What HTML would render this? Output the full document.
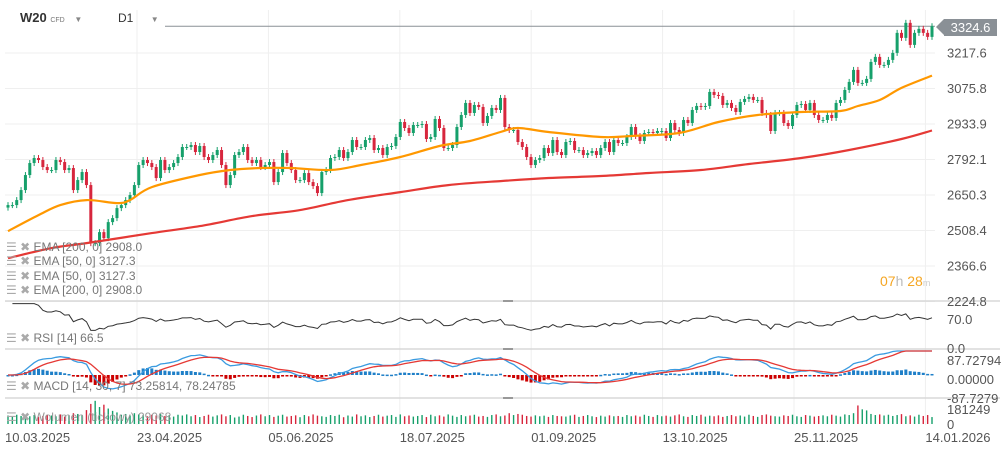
<!DOCTYPE html>
<html><head><meta charset="utf-8"><style>
body{margin:0;background:#fff;width:1007px;height:450px;overflow:hidden;font-family:"Liberation Sans",sans-serif}
svg{position:absolute;left:0;top:0}
text{font-family:"Liberation Sans",sans-serif}
.lg{font-size:12px;color:#777}
.ic{color:#aaa}
</style></head><body>
<svg id="c" width="1007" height="450"></svg>
<script>
const closes=[2610,2610,2630,2670,2730,2778,2798,2790,2762,2750,2750,2790,2782,2750,2758,2670,2710,2742,2690,2458,
2458,2502,2478,2542,2558,2598,2610,2630,2650,2690,2770,2790,2778,2762,2718,2790,2750,2762,2778,2802,2842,2842,2850,2822,2846,2802,2790,2810,2830,2770,2690,
2730,2810,2822,2842,2790,2778,2790,2762,2770,2782,2702,2742,2818,2778,2750,2710,2710,2738,2702,2686,2658,
2742,2750,2798,2802,2830,2798,2822,2870,2842,2842,2870,2878,2830,2838,2810,2842,2846,2882,2942,2918,2898,2930,2930,2934,2874,2882,2954,2918,2838,2838,2850,2922,2970,3018,2978,3010,3002,2938,2966,2998,2990,3038,2922,2910,2910,2862,2842,2802,2770,2790,2798,2838,2818,2870,2822,2810,2862,2866,2830,2830,2810,2818,2826,2810,2838,2862,2822,2870,2858,2858,2882,
2922,2886,2866,2898,2902,2898,2906,2906,2878,2938,2910,2898,2950,2938,2990,3006,3002,3006,3062,3050,3046,3010,3018,2998,2982,3022,3034,3042,3030,3030,2978,2970,2906,2978,2978,2938,2926,2970,3010,3014,2990,3018,2970,2950,2950,2970,2958,3018,3030,3070,3102,3150,3098,3098,3114,3182,3202,3170,3170,3190,3218,3298,3278,3338,3250,3298,3314,3298,3282,3324.6];
const volumes=[55,48,60,52,45,50,58,47,52,60,55,50,62,48,56,70,65,58,90,130,
150,110,125,100,85,75,60,65,55,70,62,58,50,60,55,64,52,58,48,60,55,62,50,58,45,52,60,48,56,62,50,
58,42,48,60,52,45,55,62,50,58,46,54,60,48,52,56,44,58,50,62,54,
50,46,58,52,60,44,55,48,62,50,56,45,52,60,48,54,58,46,62,50,55,48,52,58,45,60,50,56,48,62,54,46,58,50,55,60,48,52,46,58,62,50,55,70,58,65,60,52,48,56,50,54,46,58,52,50,48,55,60,46,52,58,50,45,54,48,56,50,52,46,58,
50,55,48,60,52,46,58,50,54,48,56,62,50,46,58,52,60,48,54,50,56,46,52,58,50,55,48,60,52,46,58,62,54,50,48,56,52,60,50,46,58,54,48,52,56,50,60,54,48,62,58,70,120,95,88,65,58,62,55,60,52,58,64,50,56,48,60,52,58,45];
const ema50Idx=[0,7,12,18,25,28,33,44,51,58,65,74,81,90,99,106,113,117,124,136,143,154,163,172,182,191,195,200,205,212];
const ema50Val=[2506,2570,2610,2630,2618,2630,2682,2730,2750,2758,2758,2750,2770,2802,2846,2866,2902,2918,2902,2882,2886,2898,2942,2970,2982,2986,3006,3030,3078,3127.3];
const ema200Idx=[0,10,18,33,44,56,67,78,90,101,113,124,136,147,159,170,182,193,205,212];
const ema200Val=[2398,2438,2458,2498,2526,2566,2590,2630,2662,2690,2706,2718,2726,2738,2750,2774,2798,2830,2874,2908];
const priceTicks=["3217.6","3075.8","2933.9","2792.1","2650.3","2508.4","2366.6","2224.8"];
const dateLabels=["10.03.2025","23.04.2025","05.06.2025","18.07.2025","01.09.2025","13.10.2025","25.11.2025","14.01.2026"];

const svg=document.getElementById('c');const NS='http://www.w3.org/2000/svg';
function el(t,a,p){const e=document.createElementNS(NS,t);for(const k in a)e.setAttribute(k,a[k]);(p||svg).appendChild(e);return e;}
const n=closes.length;
const xOf=i=>8+i*(924/(n-1));
const yOf=p=>53+(3217.6-p)*0.2503;
const g=el('g',{});
priceTicks.forEach(t=>{const y=yOf(+t);el('line',{x1:5,x2:935,y1:y,y2:y,stroke:'#efefef'},g);});
for(let k=0;k<7;k++){const x=137+k*131.4;el('line',{x1:x,x2:x,y1:10,y2:425,stroke:'#efefef'},g);}
[301,349,398].forEach(y=>{el('line',{x1:5,x2:1000,y1:y,y2:y,stroke:'#d8d8d8','stroke-width':1.5},g);el('line',{x1:503,x2:513,y1:y,y2:y,stroke:'#999','stroke-width':2},g);});
const pl=el('line',{x1:165,x2:935,y1:yOf(closes[n-1]),y2:yOf(closes[n-1]),stroke:'#8a9096'});

const cg=el('g',{});
for(let i=0;i<n;i++){const o=i?closes[i-1]:closes[0]-10,c=closes[i];const up=c>=o;const col=up?'#16a06b':'#d7263d';
const x=xOf(i);const yt=yOf(Math.max(o,c)),yb=yOf(Math.min(o,c));
el('line',{x1:x,x2:x,y1:yt-3,y2:yb+3,stroke:col,'stroke-width':1},cg);
const r=el('rect',{x:x-1.5,y:yt,width:3,height:Math.max(1,yb-yt),fill:col},cg);
}
function smoothPath(pts){let d='M'+pts[0][0].toFixed(1)+' '+pts[0][1].toFixed(1);
for(let k=0;k<pts.length-1;k++){const p0=pts[k-1]||pts[k],p1=pts[k],p2=pts[k+1],p3=pts[k+2]||p2;
const c1x=p1[0]+(p2[0]-p0[0])/6,c1y=p1[1]+(p2[1]-p0[1])/6,c2x=p2[0]-(p3[0]-p1[0])/6,c2y=p2[1]-(p3[1]-p1[1])/6;
d+='C'+c1x.toFixed(1)+' '+c1y.toFixed(1)+' '+c2x.toFixed(1)+' '+c2y.toFixed(1)+' '+p2[0].toFixed(1)+' '+p2[1].toFixed(1);}return d;}
function emaLine(idx,val,col,name){const pts=idx.map((i,k)=>[xOf(i),yOf(val[k])]);
const p=el('path',{d:smoothPath(pts),fill:'none',stroke:col,'stroke-width':2.2,'stroke-linejoin':'round'});}
emaLine(ema200Idx,ema200Val,'#e53935','ema-200-line');
emaLine(ema50Idx,ema50Val,'#ff9800','ema-50-line');
let gain=0,loss=0;const rsi=[];
for(let i=1;i<n;i++){const d=closes[i]-closes[i-1];const gg=Math.max(d,0),ll=Math.max(-d,0);
if(i<=14){gain+=gg/14;loss+=ll/14;}else{gain=(gain*13+gg)/14;loss=(loss*13+ll)/14;}
rsi.push([i,loss===0?100:100-100/(1+gain/loss)]);}
let rd='';rsi.forEach((r,k)=>{rd+=(k?'L':'M')+xOf(r[0]).toFixed(1)+' '+(345-r[1]*0.414).toFixed(1);});
const rl=el('path',{d:rd,fill:'none',stroke:'#333','stroke-width':1});
let e14=closes[0],e30=closes[0],sig=0;const mac=[],sg=[];
closes.forEach((c,i)=>{e14+=(c-e14)*2/15;e30+=(c-e30)*2/31;const m=e14-e30;sig+=(m-sig)*2/8;mac.push(m);sg.push(sig);});
const my=v=>375-v*(36/87.73);
const hg=el('g',{});
mac.forEach((m,i)=>{const h=(m-sg[i])*0.9;const y0=my(0),y1=Math.max(352,Math.min(396,my(h)));el('rect',{x:xOf(i)-1.5,y:Math.min(y0,y1),width:3,height:Math.max(1.5,Math.abs(y1-y0)),fill:h>=0?'#1e7fc8':'#c00'},hg);});
function pline(arr,col,name){let d='';arr.forEach((v,i)=>{d+=(i?'L':'M')+xOf(i).toFixed(1)+' '+Math.max(351,Math.min(397,my(v))).toFixed(1);});const p=el('path',{d:d,fill:'none',stroke:col,'stroke-width':1.3});}
pline(mac,'#3a9be0','macd-line');pline(sg,'#e53935','signal-line');
const vg=el('g',{});
for(let i=0;i<n;i++){const v=(volumes[i]||50)*1000;const up=i?closes[i]>=closes[i-1]:true;const h=v*28/181249;
el('rect',{x:xOf(i)-0.7,y:424-h,width:1.4,height:h,fill:up?'#16a06b':'#d7263d'},vg);}
const ag=el('g',{});
priceTicks.forEach(t=>{const tx=el('text',{x:947,y:yOf(+t)+4.5,fill:'#555','font-size':13},ag);tx.textContent=t;});
[['70.0',320],['0.0',349],['87.72794',361],['0.00000',380],['-87.7279',399],['181249',410],['0',425]].forEach(a=>{const tx=el('text',{x:947,y:a[1]+4,fill:'#555','font-size':13},ag);tx.textContent=a[0];});
const xg=el('g',{});
dateLabels.forEach((d,k)=>{const x=k==0?5:137+(k-1)*131.4;const tx=el('text',{x:x,y:442,fill:'#555','font-size':13},xg);tx.textContent=d;});
</script>
<div style="position:absolute;left:944px;top:19px;width:53px;height:17px;background:#8a9096;color:#fff;font-size:13px;line-height:17px;text-align:center">3324.6</div>
<div style="position:absolute;left:936px;top:19px;width:0;height:0;border-top:8.5px solid transparent;border-bottom:8.5px solid transparent;border-right:8px solid #8a9096"></div>
<div style="position:absolute;left:20px;top:10px;font-size:13px;font-weight:bold;color:#333">W20 <span style="font-size:7px;font-weight:normal;color:#777">CFD</span> <span style="font-size:8px;color:#888;margin-left:6px">▼</span></div>
<div style="position:absolute;left:118px;top:11px;font-size:12px;color:#333">D1 <span style="font-size:8px;color:#888;margin-left:14px">▼</span></div>
<div style="position:absolute;left:880px;top:273px;font-size:14px;color:#f5a623">07<span style="color:#bbb">h</span> 28<span style="color:#ccc;font-size:9px">m</span></div>
<div class="lg" style="position:absolute;left:6px;top:240px;line-height:14.3px">
<div><span class="ic">☰ ✖</span> EMA [200, 0] 2908.0</div>
<div><span class="ic">☰ ✖</span> EMA [50, 0] 3127.3</div>
<div><span class="ic">☰ ✖</span> EMA [50, 0] 3127.3</div>
<div><span class="ic">☰ ✖</span> EMA [200, 0] 2908.0</div></div>
<div class="lg" style="position:absolute;left:6px;top:331px"><span class="ic">☰ ✖</span> RSI [14] 66.5</div>
<div class="lg" style="position:absolute;left:6px;top:379px"><span class="ic">☰ ✖</span> MACD [14, 30, 7] 73.25814, 78.24785</div>
<div class="lg" style="position:absolute;left:6px;top:410px;color:#999"><span class="ic">☰ ✖</span> Wolumen (tickowy) 29068</div>
</body></html>
